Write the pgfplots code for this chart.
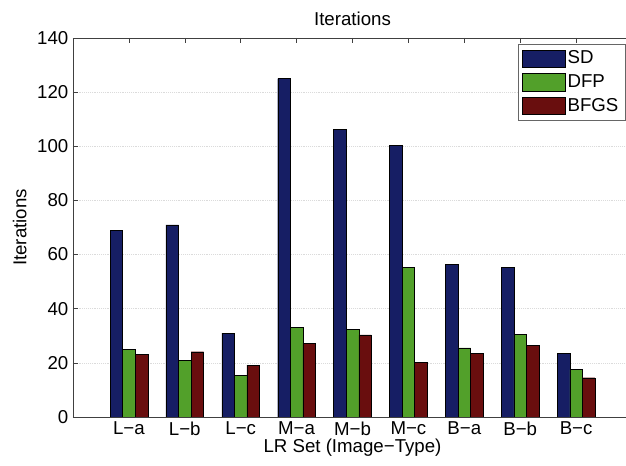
\documentclass[border=0pt]{standalone}
\usepackage{fontspec}
\setmainfont{Liberation Sans}
\usepackage{pgfplots}
\pgfplotsset{compat=1.18}
\definecolor{sdc}{RGB}{22,30,100}
\definecolor{dfpc}{RGB}{82,160,42}
\definecolor{bfgsc}{RGB}{105,14,14}
\pgfplotsset{mylegend/.style={legend image code/.code={\draw[##1,draw=black,line width=0.3pt] (0pt,-6.5pt) rectangle (32pt,6.5pt);}}}
\begin{document}
\begin{tikzpicture}
\begin{axis}[name=ax, at={(0,0)}, anchor=south west,
  scale only axis, width=419.25pt, height=284.25pt,
  xmin=0, xmax=10, ymin=0, ymax=140,
  xtick={1,...,9},
  xticklabels={L−a,L−b,L−c,M−a,M−b,M−c,B−a,B−b,B−c},
  ytick={0,20,...,140},
  tick align=inside, tick pos=both,
  major tick length=3.75pt,
  axis line style={black!75},
  every tick/.style={black!75},
  ymajorgrids, major grid style={densely dotted, black!14},
  /pgf/number format/assume math mode=true,
  tick label style={font=\fontsize{14}{16}\selectfont},
  label style={font=\fontsize{14}{16}\selectfont},
  title style={font=\fontsize{14}{16}\selectfont, yshift=0pt},
  title={Iterations},
  xlabel={LR Set (Image−Type)},
  ylabel={Iterations},
  xlabel style={yshift=4pt},
  ylabel style={yshift=1pt},
  legend style={at={(1,1)}, anchor=north east, xshift=-5pt, yshift=-4.5pt,
    draw=black!60, font=\fontsize{14}{16}\selectfont, row sep=2.5pt,
    inner xsep=3pt, inner ysep=3pt},
  legend cell align=left,
]
\addplot[ybar, mylegend, bar width=0.225, bar shift=-0.225, fill=sdc, draw=black, line width=0.3pt]
 coordinates {(1,69) (2,71) (3,31) (4,125) (5,106.3) (6,100.3) (7,56.4) (8,55.4) (9,23.5)};
\addplot[ybar, mylegend, bar width=0.225, bar shift=0, fill=dfpc, draw=black, line width=0.3pt]
 coordinates {(1,25.1) (2,21) (3,15.3) (4,33.2) (5,32.3) (6,55.4) (7,25.5) (8,30.4) (9,17.5)};
\addplot[ybar, mylegend, bar width=0.225, bar shift=0.225, fill=bfgsc, draw=black, line width=0.3pt]
 coordinates {(1,23.2) (2,24.1) (3,19.2) (4,27.3) (5,30.3) (6,20.3) (7,23.5) (8,26.5) (9,14.5)};
\legend{SD,DFP,BFGS}
\end{axis}
\pgfresetboundingbox
\path[use as bounding box] (-54.75pt,-36.75pt) rectangle (414.75pt,312.75pt);
\end{tikzpicture}
\end{document}
